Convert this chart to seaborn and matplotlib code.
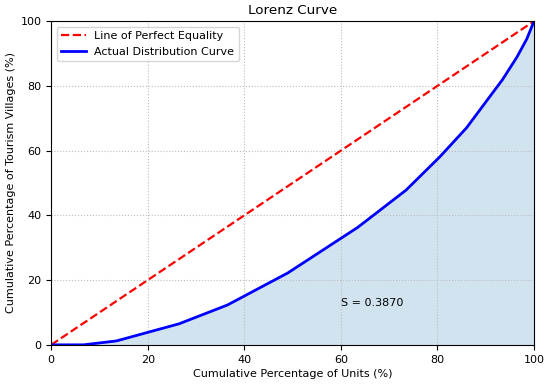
import matplotlib
matplotlib.use("Agg")
import matplotlib.pyplot as plt
import seaborn as sns
import pandas as pd

cum_units = [0, 6.7, 13.5, 26.5, 36.5, 49, 63.5, 73.5, 80.5, 86, 90, 93.5, 96.5, 98.5, 100]
cum_villages = [0, 0, 1.2, 6.5, 12.3, 22.2, 36.3, 47.8, 58.1, 67, 75, 82, 89, 94.5, 100]
equality = [0, 100]
s_value = 0.3870

df = pd.DataFrame({"x": cum_units, "y": cum_villages})
eq = pd.DataFrame({"x": equality, "y": equality})

plt.rcParams["font.family"] = ["DejaVu Sans"]
fig, ax = plt.subplots(figsize=(5.5, 3.84), dpi=100)
fig.subplots_adjust(left=0.093, right=0.971, top=0.945, bottom=0.102)

sns.lineplot(data=eq, x="x", y="y", ax=ax, color="red", linestyle="--", linewidth=1.6,
             label="Line of Perfect Equality")
sns.lineplot(data=df, x="x", y="y", ax=ax, color="blue", linewidth=2,
             label="Actual Distribution Curve")
ax.fill_between(df["x"], df["y"], color="#1f77b4", alpha=0.2, linewidth=0)

ax.text(60, 13, f"S = {s_value:.4f}", fontsize=8, ha="left", va="center")

ax.set_xlim(0, 100)
ax.set_ylim(0, 100)
ax.set_xlabel("Cumulative Percentage of Units (%)", fontsize=8, labelpad=3)
ax.set_ylabel("Cumulative Percentage of Tourism Villages (%)", fontsize=8, labelpad=3)
ax.set_title("Lorenz Curve", fontsize=9.7, pad=5)
ax.tick_params(labelsize=8)
ax.grid(True, linestyle=":", color="#bbbbbb", linewidth=0.8)
ax.legend(loc="upper left", fontsize=8, handlelength=2.2)

fig.savefig("out.png", dpi=100)
